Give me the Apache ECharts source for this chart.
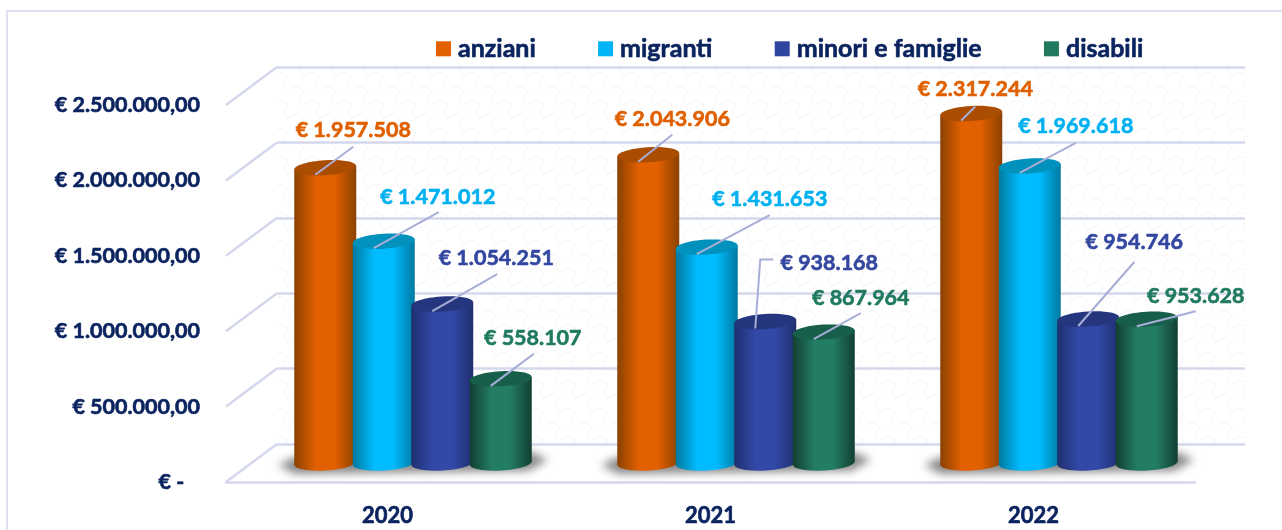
<!DOCTYPE html>
<html>
<head>
<meta charset="utf-8">
<style>html,body{margin:0;padding:0;background:#fff}#c{width:1282px;height:530px}</style>
<script src="https://cdn.jsdelivr.net/npm/echarts@6/dist/echarts.min.js"></script>
</head>
<body>
<div id="c"></div>
<script>
// ---- data ----
const categories = ['2020', '2021', '2022'];
const seriesNames = ['anziani', 'migranti', 'minori e famiglie', 'disabili'];
const anziani = [1957508, 2043906, 2317244];
const migranti = [1471012, 1431653, 1969618];
const minoriFamiglie = [1054251, 938168, 954746];
const disabili = [558107, 867964, 953628];
const yTickValues = [0, 500000, 1000000, 1500000, 2000000, 2500000];
const yTickLabels = ['€ -\u00a0\u00a0\u00a0', '€ 500.000,00', '€ 1.000.000,00', '€ 1.500.000,00', '€ 2.000.000,00', '€ 2.500.000,00'];

// ---- layout & styles (kept apart from the values) ----
const allValues = [anziani, migranti, minoriFamiglie, disabili];
const colors = ['#E36000', '#00B4F5', '#2F46A0', '#217A60'];
const labelColors = ['#E06000', '#00B0F0', '#3347A0', '#1F7A5F'];
const shades = [
  {edge:'#8A4100', mid:'#E36000', top:'#AB4D00'},
  {edge:'#00799F', mid:'#00BCFF', top:'#0092BC'},
  {edge:'#1F2F70', mid:'#3349A8', top:'#25367E'},
  {edge:'#123F32', mid:'#237C64', top:'#175F4A'}
];
const TEXT = '#0B2460', FONT = 'Lato', LINE = '#D5D8EC', LEADER = '#A8AED8';
const DEPTH_X = 51, DEPTH_Y = 38;
const BAR_W_FRAC = 62 / 323, BAR_STEP_FRAC = 58.5 / 323, RY = 7.5, TILT = 0.06;
// callout offsets from each bar-top centre: label dx,dy then leader path points
const callouts = [
  [[[28,-39],[[28,-21]]], [[24,-37],[[24,-20]]], [[4,-26],[[4,-7]]]],
  [[[54,-46],[[55,-29]]], [[63,-50],[[63,-32]]], [[46,-41],[[46,-23]]]],
  [[[54,-47],[[55,-30]]], [[64,-60],[[-5,-62],[8,-62]]], [[46,-78],[[46,-57]]]],
  [[[32,-42],[[33,-25]]], [[37,-36],[[37,-19]]], [[49,-25],[[49,-8]]]]
];

function wallPattern() {
  const cv = document.createElement('canvas');
  cv.width = 32; cv.height = 28;
  const g = cv.getContext('2d');
  g.fillStyle = '#ffffff'; g.fillRect(0, 0, 32, 28);
  g.strokeStyle = '#f5f5f7'; g.lineWidth = 1;
  [[0,0],[16,14],[-16,14],[0,28],[16,-14],[32,0]].forEach(function (p) {
    g.beginPath();
    g.moveTo(p[0], p[1] + 7);
    g.quadraticCurveTo(p[0] + 8, p[1] - 2, p[0] + 16, p[1] + 7);
    g.moveTo(p[0] + 16, p[1] + 7);
    g.quadraticCurveTo(p[0] + 8, p[1] + 14, p[0] + 16, p[1] + 21);
    g.stroke();
  });
  return cv;
}

// soft floor shadow, pre-rendered once and placed at each category through the axis scale
const SH_W = 320, SH_H = 60;
function shadowImage() {
  const cv = document.createElement('canvas');
  cv.width = SH_W; cv.height = SH_H;
  const g = cv.getContext('2d');
  g.filter = 'blur(4px)';
  g.fillStyle = '#8a8a8a';
  const pts = [[-135,2],[-118,-6],[118,-11],[135,-3],[115,8],[-118,11]];
  g.beginPath();
  pts.forEach(function (p, i) {
    const x = p[0] + SH_W / 2, y = p[1] + SH_H / 2;
    if (i) g.lineTo(x, y); else g.moveTo(x, y);
  });
  g.closePath(); g.fill();
  return cv;
}
const shadowCanvas = shadowImage();

function euro(v) {
  return '€ ' + String(v).replace(/\B(?=(\d{3})+(?!\d))/g, '.');
}

function barCenter(api, params, cat, val, si) {
  const c = api.coord([cat, val]);
  const band = api.size([1, 0])[0];
  return [c[0] + DEPTH_X / 2 + (si - 1.5) * band * BAR_STEP_FRAC, c[1] - DEPTH_Y / 2, band * BAR_W_FRAC];
}

function cylinder(si) {
  const s = shades[si];
  const grad = {type:'linear', x:0, y:0, x2:1, y2:0, colorStops:[
    {offset:0, color:s.edge}, {offset:0.35, color:s.mid}, {offset:0.5, color:s.mid},
    {offset:0.65, color:s.mid}, {offset:1, color:s.edge}]};
  return function (params, api) {
    const cat = api.value(0), val = api.value(1);
    const t = barCenter(api, params, cat, val, si);
    const b = barCenter(api, params, cat, 0, si);
    const cx = t[0], rx = t[2] / 2, tilt = rx * Math.sin(TILT);
    return {type:'group', children:[
      {type:'ellipse', rotation:TILT, originX:cx, originY:b[1],
        shape:{cx:cx, cy:b[1], rx:rx, ry:RY}, style:{fill:grad}},
      {type:'polygon', shape:{points:[[cx-rx,t[1]+tilt],[cx+rx,t[1]-tilt],[cx+rx,b[1]-tilt],[cx-rx,b[1]+tilt]]},
        style:{fill:grad}},
      {type:'ellipse', rotation:TILT, originX:cx, originY:t[1],
        shape:{cx:cx, cy:t[1], rx:rx, ry:RY}, style:{fill:s.top}}
    ]};
  };
}

const barSeries = seriesNames.map(function (name, si) {
  return {
    name: name, type:'custom', coordinateSystem:'cartesian2d', z:3,
    itemStyle:{color:colors[si]},
    encode:{x:0, y:1},
    data: allValues[si].map(function (v, ci) { return [ci, v]; }),
    renderItem: cylinder(si)
  };
});

const shadowSeries = {
  type:'custom', coordinateSystem:'cartesian2d', z:2, silent:true,
  encode:{x:0, y:1},
  data: categories.map(function (c, ci) { return [ci, 0]; }),
  renderItem: function (params, api) {
    const c = api.coord([api.value(0), 0]);
    const x = c[0] + DEPTH_X / 2, y = c[1] - DEPTH_Y / 2;
    return {type:'image',
      style:{image:shadowCanvas, x:x - SH_W / 2, y:y - SH_H / 2, width:SH_W, height:SH_H}};
  }
};

const slantSeries = {
  type:'custom', coordinateSystem:'cartesian2d', z:1, silent:true,
  encode:{y:0},
  data: yTickValues.map(function (v) { return [v]; }),
  renderItem: function (params, api) {
    const left = params.coordSys.x;
    const y = api.coord([0, api.value(0)])[1];
    return {type:'line', shape:{x1:left, y1:y, x2:left+DEPTH_X, y2:y-DEPTH_Y},
      style:{stroke:LINE, lineWidth:2.5}};
  }
};

const calloutData = [];
allValues.forEach(function (vals, si) {
  vals.forEach(function (v, ci) { calloutData.push([ci, v, si]); });
});
const calloutSeries = {
  type:'custom', coordinateSystem:'cartesian2d', z:5, silent:true,
  encode:{x:0, y:1},
  data: calloutData,
  renderItem: function (params, api) {
    const ci = api.value(0), v = api.value(1), si = api.value(2);
    const t = barCenter(api, params, ci, v, si);
    const item = callouts[si][ci];
    const pts = [[t[0]-10, t[1]+7]].concat(item[1].map(function (p) { return [t[0]+p[0], t[1]+p[1]]; }));
    return {type:'group', children:[
      {type:'polyline', shape:{points:pts}, style:{stroke:LEADER, lineWidth:2, fill:'none'}},
      {type:'text', style:{x:t[0]+item[0][0], y:t[1]+item[0][1]+1.5, text:euro(v), fill:labelColors[si],
        stroke:labelColors[si], lineWidth:0.6,
        font:'bold 21.5px '+FONT, textAlign:'center', textVerticalAlign:'middle'}}
    ]};
  }
};

const chart = echarts.init(document.getElementById('c'), null, {renderer:'canvas'});
chart.setOption({
  animation:false,
  backgroundColor:'#ffffff',
  legend:{
    data:seriesNames, left:431, top:31, itemWidth:15, itemHeight:15, itemGap:62, icon:'rect',
    selectedMode:false,
    textStyle:{color:TEXT, fontFamily:FONT, fontWeight:'bold', fontSize:25, padding:[0,0,0,2],
      textBorderColor:TEXT, textBorderWidth:0.6}
  },
  grid:[
    {left:226, top:105, width:969, height:377},
    {left:277, top:67, width:968, height:377, show:true, borderWidth:0,
      backgroundColor:{image:wallPattern(), repeat:'repeat'}}
  ],
  xAxis:[
    {type:'category', gridIndex:0, data:categories,
      axisLine:{lineStyle:{color:LINE, width:2.5}}, axisTick:{show:false},
      axisLabel:{color:TEXT, fontFamily:FONT, fontWeight:'bold', fontSize:22, margin:23,
        textBorderColor:TEXT, textBorderWidth:0.6}},
    {type:'category', gridIndex:1, data:categories, show:false}
  ],
  yAxis:[
    {type:'value', gridIndex:0, min:0, max:2500000, interval:500000,
      axisLine:{show:false}, axisTick:{show:false}, splitLine:{show:false},
      axisLabel:{color:TEXT, fontFamily:FONT, fontWeight:'bold', fontSize:21.5, margin:26,
        textBorderColor:TEXT, textBorderWidth:0.6, padding:[4,0,0,0],
        formatter:function (v) { return yTickLabels[yTickValues.indexOf(v)]; }}},
    {type:'value', gridIndex:1, min:0, max:2500000, interval:500000,
      axisLine:{show:false}, axisTick:{show:false}, axisLabel:{show:false},
      splitLine:{show:true, lineStyle:{color:LINE, width:2.5}}}
  ],
  graphic:[
    {type:'line', z:0, shape:{x1:6, y1:11, x2:1282, y2:11}, style:{stroke:'#DCDFF0', lineWidth:2}},
    {type:'line', z:0, shape:{x1:7, y1:11, x2:7, y2:530}, style:{stroke:'#DCDFF0', lineWidth:2}}
  ],
  series:[slantSeries, shadowSeries].concat(barSeries, [calloutSeries])
});
</script>
</body>
</html>
